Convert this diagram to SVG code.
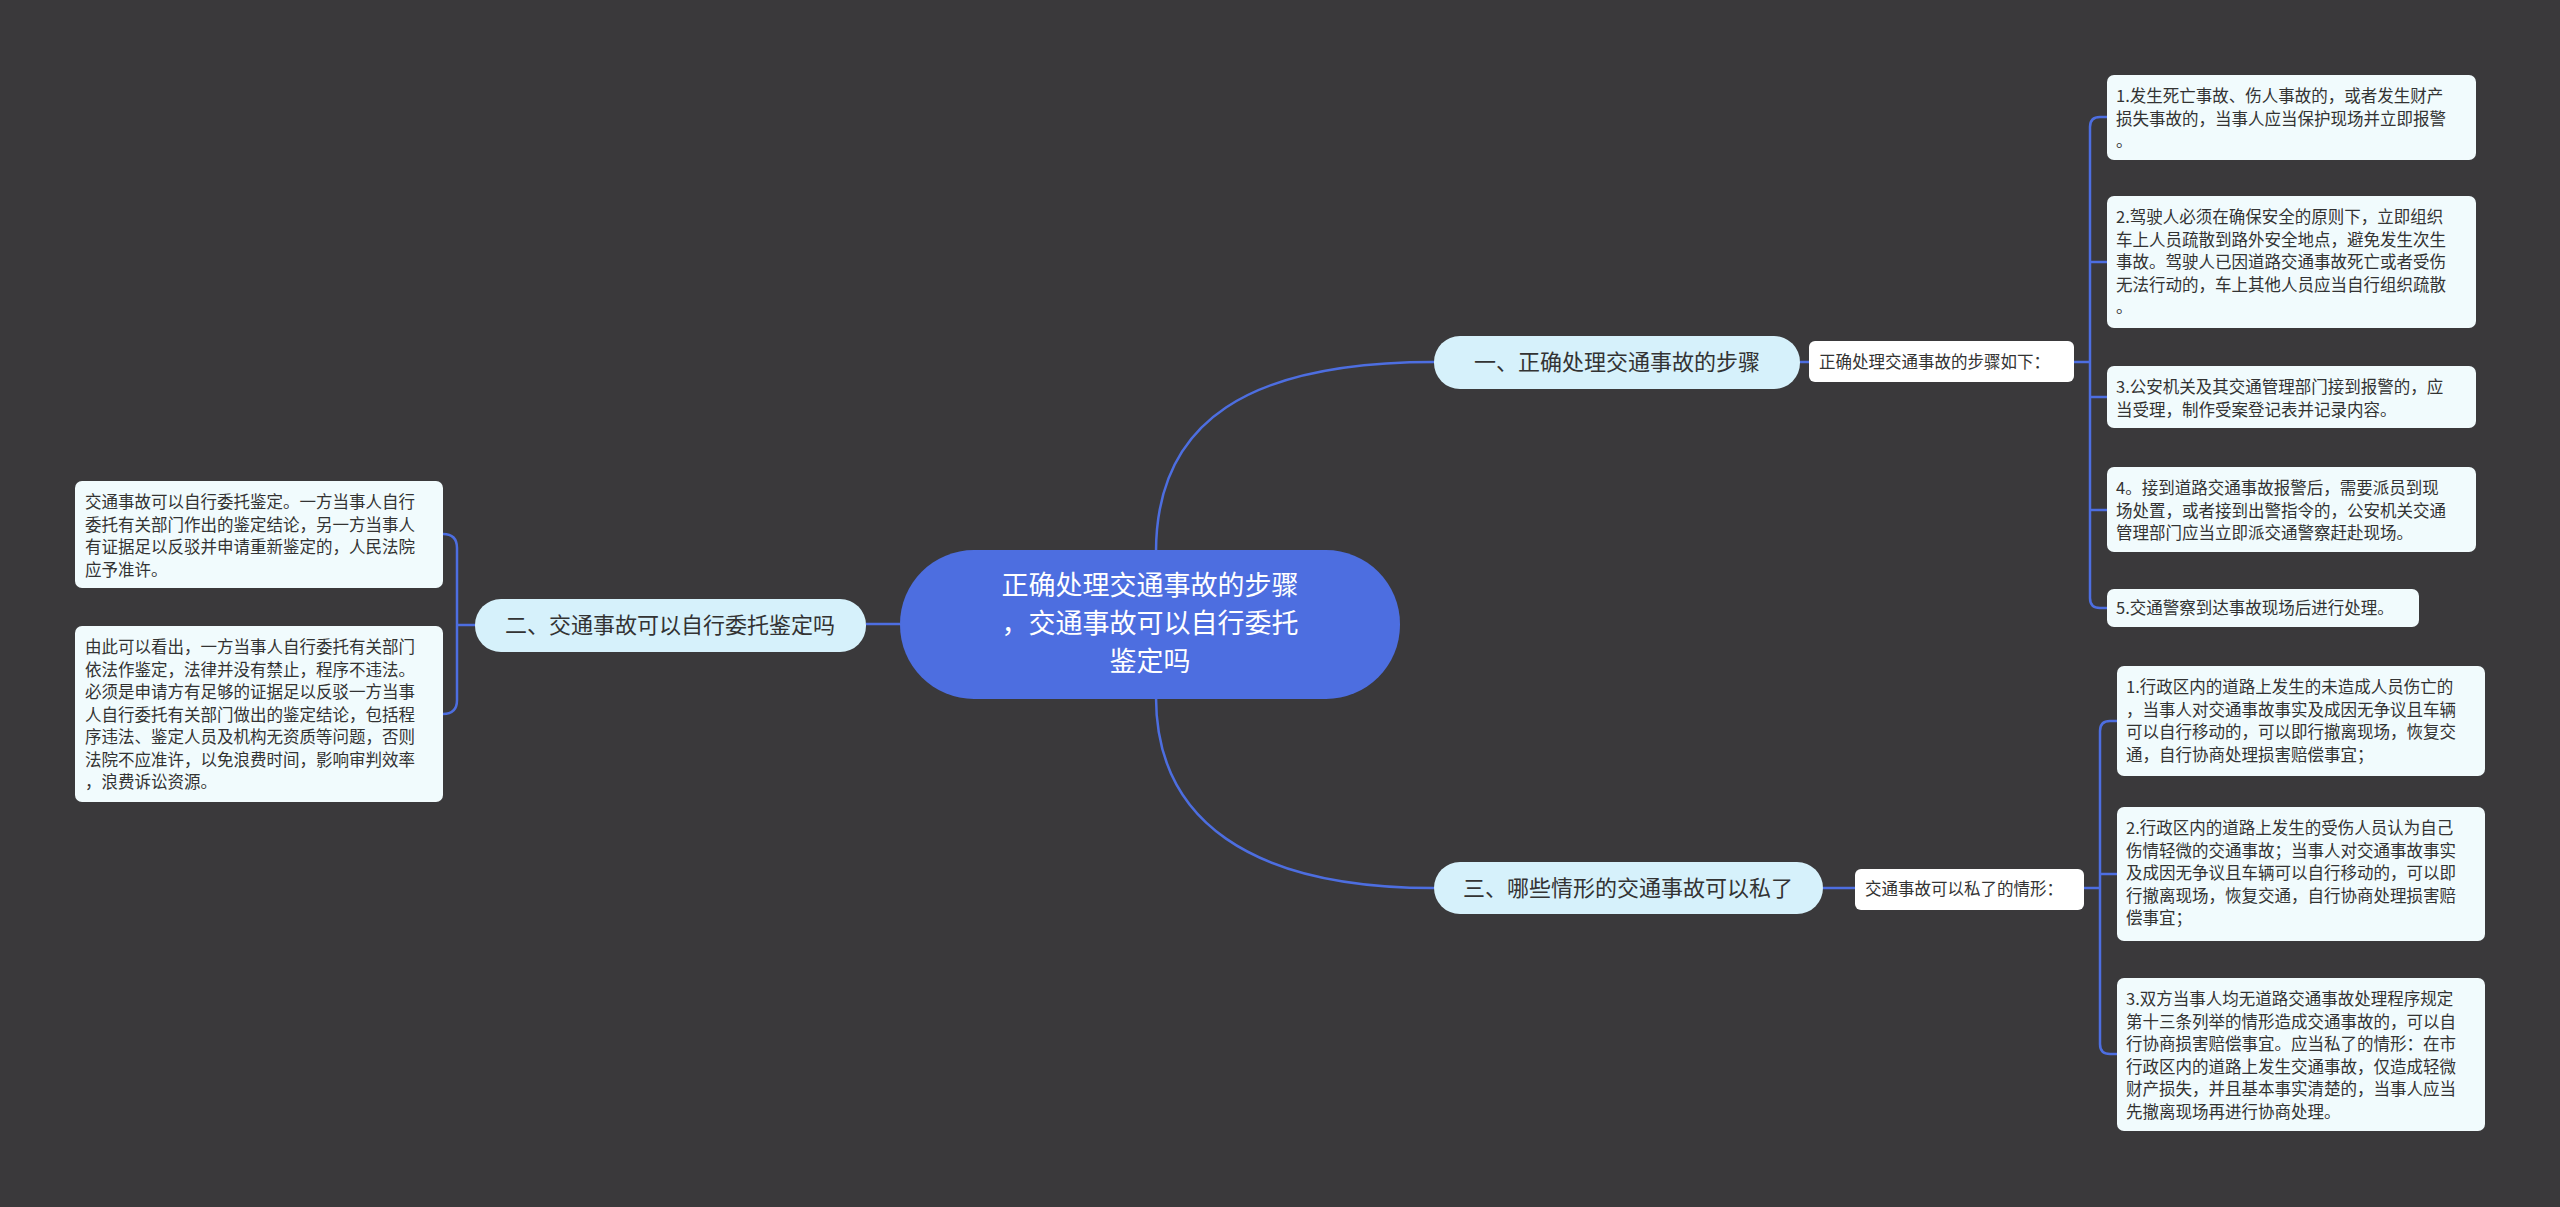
<svg xmlns="http://www.w3.org/2000/svg" width="2560" height="1207" viewBox="0 0 2560 1207">
<style>
text{font-family:"Noto Sans CJK SC","Liberation Sans",sans-serif;}
.leaf{fill:#f1fbfd;}
.lt{font-size:16.5px;fill:#333;}
.br{fill:#d6f1fb;}
.bt{font-size:22px;fill:#333;}
.sub{fill:#ffffff;}
.st{font-size:16.5px;fill:#333;}
.c{fill:none;stroke:#4d6ee0;stroke-width:2.5;}
</style>
<rect width="2560" height="1207" fill="#3a393b"/>
<g id="connectors">
<path class="c" d="M1156 552 C1156 420 1250 362 1434 362"/>
<path class="c" d="M1156 697 C1156 820 1250 888 1434 888"/>
<path class="c" d="M900 624 L866 624"/>
<path class="c" d="M1800 362 L1809 362"/>
<path class="c" d="M1823 888 L1855 888"/>
<path class="c" d="M2074 362 L2090 362"/>
<path class="c" d="M2107 117 L2100 117 Q2090 117 2090 127 L2090 598 Q2090 608 2100 608 L2107 608"/>
<path class="c" d="M2090 262 Q2090 262 2107 262 M2090 397 L2107 397 M2090 510 L2107 510"/>
<path class="c" d="M2084 888 L2100 888"/>
<path class="c" d="M2117 721 L2110 721 Q2100 721 2100 731 L2100 1044 Q2100 1054 2110 1054 L2117 1054"/>
<path class="c" d="M2100 874 L2117 874"/>
<path class="c" d="M475 625 L457 625"/>
<path class="c" d="M443 534 Q457 534 457 548 L457 700 Q457 714 443 714"/>
</g>
<g id="center">
<rect x="900" y="550" width="500" height="149" rx="74" fill="#4d6ee0"/>
<text x="1150" y="595" font-size="27" fill="#fff" text-anchor="middle">正确处理交通事故的步骤</text>
<text x="1150" y="633" font-size="27" fill="#fff" text-anchor="middle">，交通事故可以自行委托</text>
<text x="1150" y="671" font-size="27" fill="#fff" text-anchor="middle">鉴定吗</text>
</g>
<g id="b1">
<rect class="br" x="1434" y="336" width="366" height="53" rx="26"/>
<text class="bt" x="1617" y="370" text-anchor="middle">一、正确处理交通事故的步骤</text>
</g>
<g id="b3">
<rect class="br" x="1434" y="862" width="389" height="52" rx="26"/>
<text class="bt" x="1628" y="896" text-anchor="middle">三、哪些情形的交通事故可以私了</text>
</g>
<g id="b2">
<rect class="br" x="475" y="599" width="391" height="53" rx="26"/>
<text class="bt" x="670" y="633" text-anchor="middle">二、交通事故可以自行委托鉴定吗</text>
</g>
<g id="s1">
<rect class="sub" x="1809" y="341" width="265" height="41" rx="6"/>
<text class="st" x="1819" y="368">正确处理交通事故的步骤如下：</text>
</g>
<g id="s3">
<rect class="sub" x="1855" y="869" width="229" height="41" rx="6"/>
<text class="st" x="1865" y="895">交通事故可以私了的情形：</text>
</g>
<g id="r1">
<rect class="leaf" x="2107" y="75" width="369" height="85" rx="7"/>
<text class="lt" x="2116" y="102">1.发生死亡事故、伤人事故的，或者发生财产</text>
<text class="lt" x="2116" y="124.5">损失事故的，当事人应当保护现场并立即报警</text>
<text class="lt" x="2116" y="147">。</text>
</g>
<g id="r2">
<rect class="leaf" x="2107" y="196" width="369" height="132" rx="7"/>
<text class="lt" x="2116" y="223">2.驾驶人必须在确保安全的原则下，立即组织</text>
<text class="lt" x="2116" y="245.5">车上人员疏散到路外安全地点，避免发生次生</text>
<text class="lt" x="2116" y="268">事故。驾驶人已因道路交通事故死亡或者受伤</text>
<text class="lt" x="2116" y="290.5">无法行动的，车上其他人员应当自行组织疏散</text>
<text class="lt" x="2116" y="313">。</text>
</g>
<g id="r3">
<rect class="leaf" x="2107" y="366" width="369" height="62" rx="7"/>
<text class="lt" x="2116" y="393">3.公安机关及其交通管理部门接到报警的，应</text>
<text class="lt" x="2116" y="415.5">当受理，制作受案登记表并记录内容。</text>
</g>
<g id="r4">
<rect class="leaf" x="2107" y="467" width="369" height="85" rx="7"/>
<text class="lt" x="2116" y="494">4。接到道路交通事故报警后，需要派员到现</text>
<text class="lt" x="2116" y="516.5">场处置，或者接到出警指令的，公安机关交通</text>
<text class="lt" x="2116" y="539">管理部门应当立即派交通警察赶赴现场。</text>
</g>
<g id="r5">
<rect class="leaf" x="2107" y="589" width="312" height="38" rx="7"/>
<text class="lt" x="2116" y="614">5.交通警察到达事故现场后进行处理。</text>
</g>
<g id="q1">
<rect class="leaf" x="2117" y="666" width="368" height="110" rx="7"/>
<text class="lt" x="2126" y="693">1.行政区内的道路上发生的未造成人员伤亡的</text>
<text class="lt" x="2126" y="715.5">，当事人对交通事故事实及成因无争议且车辆</text>
<text class="lt" x="2126" y="738">可以自行移动的，可以即行撤离现场，恢复交</text>
<text class="lt" x="2126" y="760.5">通，自行协商处理损害赔偿事宜；</text>
</g>
<g id="q2">
<rect class="leaf" x="2117" y="807" width="368" height="134" rx="7"/>
<text class="lt" x="2126" y="834">2.行政区内的道路上发生的受伤人员认为自己</text>
<text class="lt" x="2126" y="856.5">伤情轻微的交通事故；当事人对交通事故事实</text>
<text class="lt" x="2126" y="879">及成因无争议且车辆可以自行移动的，可以即</text>
<text class="lt" x="2126" y="901.5">行撤离现场，恢复交通，自行协商处理损害赔</text>
<text class="lt" x="2126" y="924">偿事宜；</text>
</g>
<g id="q3">
<rect class="leaf" x="2117" y="978" width="368" height="153" rx="7"/>
<text class="lt" x="2126" y="1005">3.双方当事人均无道路交通事故处理程序规定</text>
<text class="lt" x="2126" y="1027.5">第十三条列举的情形造成交通事故的，可以自</text>
<text class="lt" x="2126" y="1050">行协商损害赔偿事宜。应当私了的情形：在市</text>
<text class="lt" x="2126" y="1072.5">行政区内的道路上发生交通事故，仅造成轻微</text>
<text class="lt" x="2126" y="1095">财产损失，并且基本事实清楚的，当事人应当</text>
<text class="lt" x="2126" y="1117.5">先撤离现场再进行协商处理。</text>
</g>
<g id="l1">
<rect class="leaf" x="75" y="481" width="368" height="107" rx="7"/>
<text class="lt" x="85" y="508">交通事故可以自行委托鉴定。一方当事人自行</text>
<text class="lt" x="85" y="530.5">委托有关部门作出的鉴定结论，另一方当事人</text>
<text class="lt" x="85" y="553">有证据足以反驳并申请重新鉴定的，人民法院</text>
<text class="lt" x="85" y="575.5">应予准许。</text>
</g>
<g id="l2">
<rect class="leaf" x="75" y="626" width="368" height="176" rx="7"/>
<text class="lt" x="85" y="653">由此可以看出，一方当事人自行委托有关部门</text>
<text class="lt" x="85" y="675.5">依法作鉴定，法律并没有禁止，程序不违法。</text>
<text class="lt" x="85" y="698">必须是申请方有足够的证据足以反驳一方当事</text>
<text class="lt" x="85" y="720.5">人自行委托有关部门做出的鉴定结论，包括程</text>
<text class="lt" x="85" y="743">序违法、鉴定人员及机构无资质等问题，否则</text>
<text class="lt" x="85" y="765.5">法院不应准许，以免浪费时间，影响审判效率</text>
<text class="lt" x="85" y="788">，浪费诉讼资源。</text>
</g>
</svg>
